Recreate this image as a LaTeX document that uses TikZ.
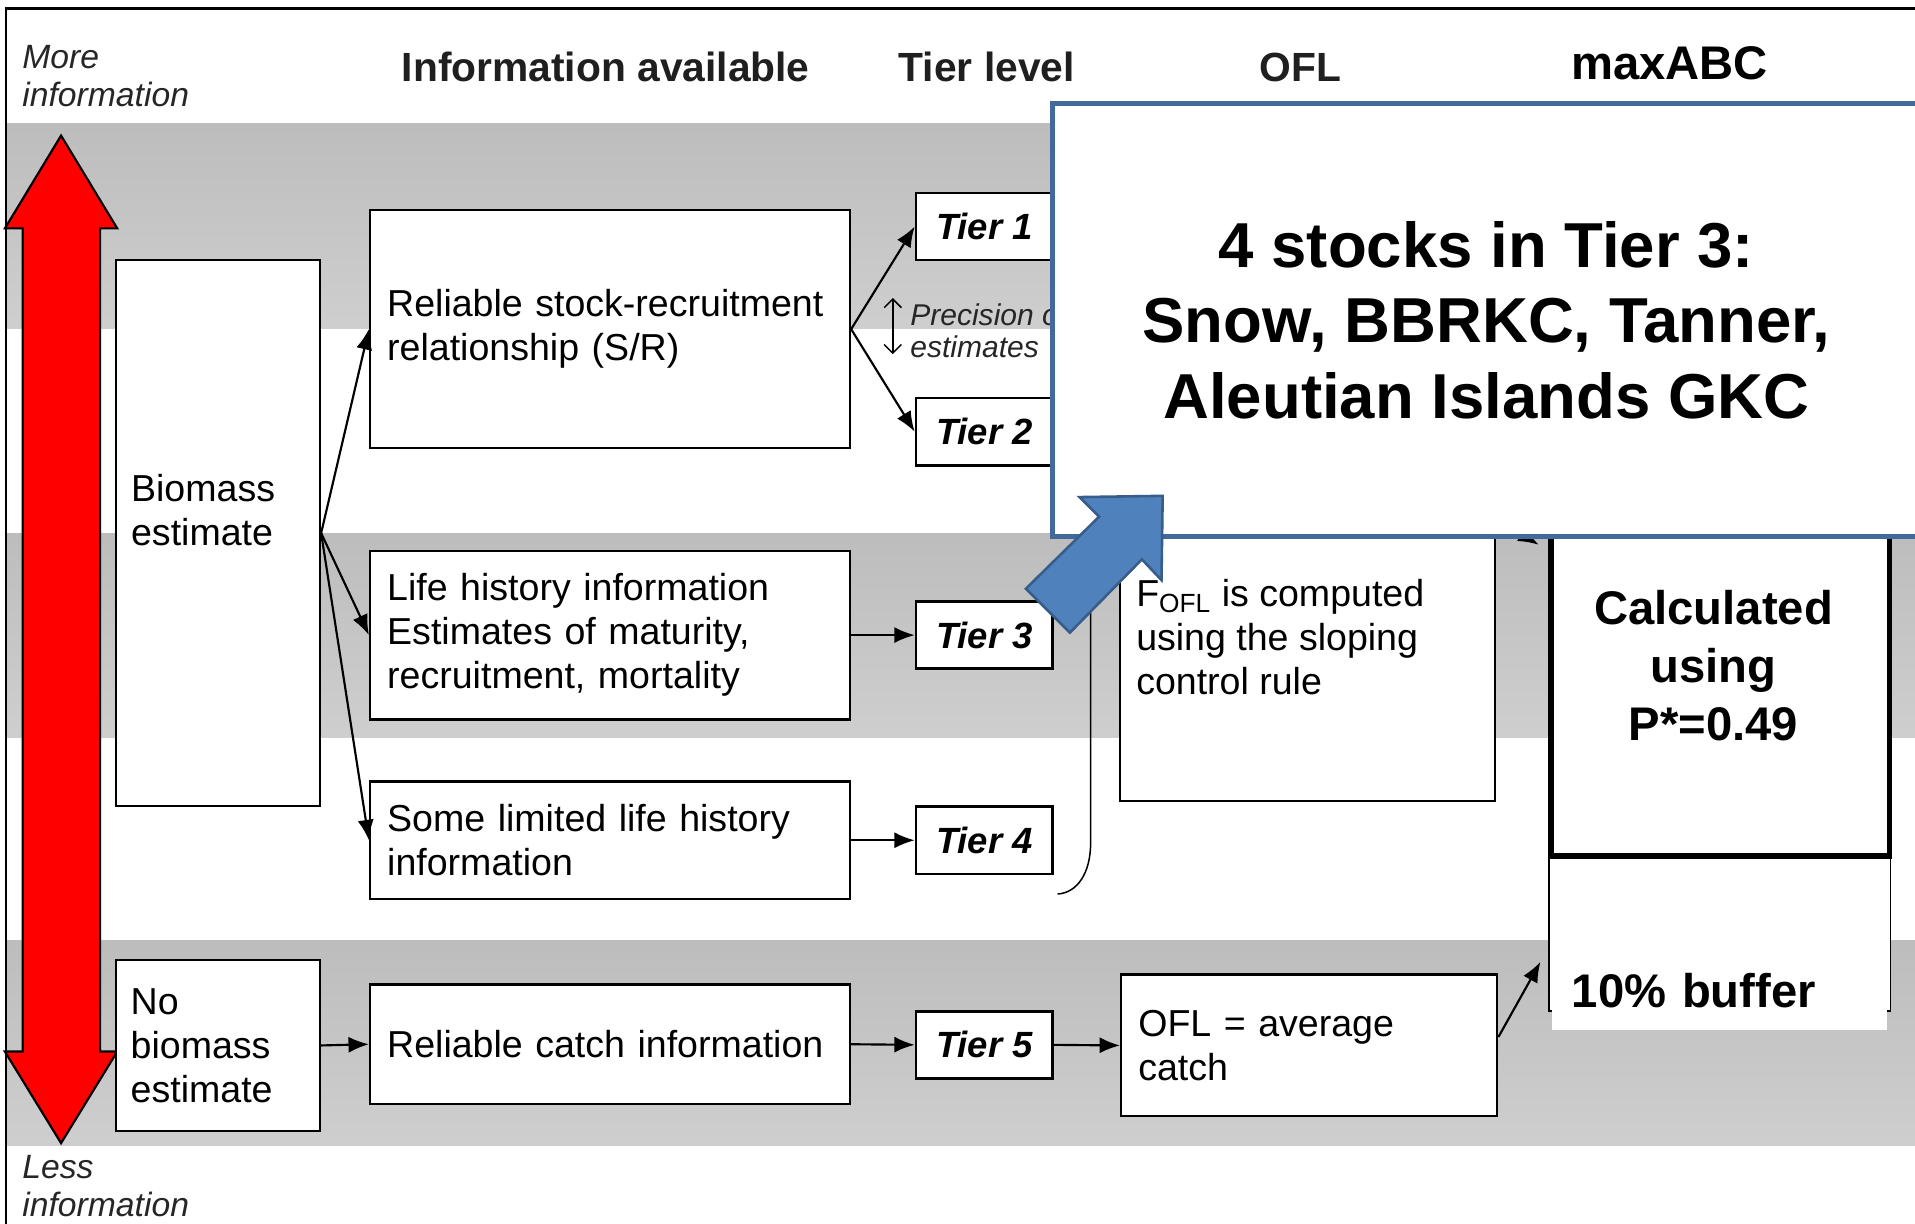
\documentclass[tikz,border=0pt]{standalone}
\usepackage{fontspec}
\setmainfont{Liberation Sans}
\usetikzlibrary{arrows.meta}

\definecolor{ovlblue}{RGB}{65,105,155}
\definecolor{arrblue}{RGB}{79,129,189}
\definecolor{arrblueline}{RGB}{56,93,138}

\newcommand{\boxfont}{\fontsize{17.5}{20.5}\selectfont}

\tikzset{
  band/.style={top color=black!26, bottom color=black!19, draw=none},
  headtext/.style={font=\fontsize{19}{22}\selectfont\bfseries, text=black!88},
  sidetext/.style={anchor=west, align=left, inner sep=0pt, font=\fontsize{15.7}{17.6}\selectfont\itshape, text=black!85},
  infobox/.style={draw, fill=white, line width=1.1pt, align=left, inner xsep=0.28cm, font=\boxfont},
  plainbox/.style={draw, fill=white, line width=1.1pt},
  boxtext/.style={anchor=west, align=left, inner sep=0pt, font=\boxfont},
  tierbox/.style={draw, fill=white, line width=1.2pt, minimum width=2.24cm, minimum height=1.1cm, inner sep=0pt, font=\fontsize{17}{20}\selectfont\bfseries\itshape},
  arr/.style={-{Latex[length=9.5pt,width=7.5pt]}, line width=1pt},
  bigtext/.style={font=\fontsize{22}{27.2}\selectfont\bfseries, text=black}
}

\begin{document}
\begin{tikzpicture}[x=0.02cm, y=-0.02cm]
        \useasboundingbox (0,0) rectangle (1568,1002);
        \clip (0,0) rectangle (1568,1002);

        % Grey bands
        \shade[band] (5,101) rectangle (1568,269);
        \shade[band] (5,437) rectangle (1568,604);
        \shade[band] (5,770) rectangle (1568,938);

        % Frame
        \draw[line width=1.1pt] (5,1002) -- (5,7) -- (1568,7);

        % Headings
        \node[headtext] (hinfo) at (496,55) {Information available};
        \node[headtext] (htier) at (808,55) {Tier level};
        \node[headtext] (hofl) at (1065,55) {OFL};
        \node[headtext, font=\fontsize{22}{26}\selectfont\bfseries, text=black] (habc) at (1367,52) {maxABC};
        \node[sidetext] (more) at (18,62) {More\\information};
        \node[sidetext] (less) at (18,971) {Less\\information};

        % Red double arrow
        \draw[fill=red, line width=1pt] (50,111) -- (96,187) -- (82,187) -- (82,861) -- (96,861)
            -- (50,936) -- (4,861) -- (18.6,861) -- (18.6,187) -- (4,187) -- cycle;

        % Biomass boxes
        \node[plainbox, minimum width=3.34cm, minimum height=8.94cm] (bio) at (178.5,436.5) {};
        \node[boxtext] (biotext) at (107,418) {Biomass\\estimate};
        \node[infobox, text width=2.86cm, inner xsep=0.24cm, minimum height=2.8cm] (nobio) at (178.5,856) {No\\biomass\\estimate};

        % Information available
        \node[infobox, text width=7.3cm, minimum height=3.9cm] (sr) at (499.5,269.5) {Reliable stock-recruitment\\relationship (S/R)};
        \node[infobox, text width=7.3cm, minimum height=2.76cm] (life) at (499.5,520) {Life history information\\Estimates of maturity,\\recruitment, mortality};
        \node[infobox, text width=7.3cm, minimum height=1.92cm] (some) at (499.5,688) {Some limited life history\\information};
        \node[infobox, text width=7.3cm, minimum height=1.96cm] (catch) at (499.5,855) {Reliable catch information};

        % Tier level
        \node[tierbox] (tier1) at (806,185.5) {Tier 1};
        \node[tierbox] (tier2) at (806,353.5) {Tier 2};
        \node[tierbox] (tier3) at (806,520) {Tier 3};
        \node[tierbox] (tier4) at (806,688) {Tier 4};
        \node[tierbox] (tier5) at (806,855.5) {Tier 5};

        % OFL
        \node[plainbox, minimum width=6.14cm, minimum height=9.92cm] (fofl) at (1070.5,408) {};
        \node[boxtext] (fofltext) at (930,522) {F\textsubscript{OFL} is computed\\using the sloping\\control rule};
        \node[infobox, text width=5.6cm, minimum height=2.32cm] (ofl5) at (1072,856) {OFL = average\\catch};

        % maxABC
        \node[plainbox, line width=0.8pt, minimum width=5.6cm, minimum height=2.54cm] (buffer) at (1408,764.5) {};
        \node[plainbox, line width=2.5pt, minimum width=5.54cm, minimum height=10.82cm] (calc) at (1408.5,430.5) {};
        \node[bigtext, align=center] (calctext) at (1403,545) {Calculated\\using\\P*=0.49};
        \node[bigtext, fill=white, align=left, text width=4.84cm, inner xsep=0.32cm, minimum height=1.26cm] (buftext) at (1408,811.5) {10\% buffer};

        % Connectors
        \draw[arr] (bio.east) -- (sr.west);
        \draw[arr] (bio.east) -- (life.west);
        \draw[arr] (bio.east) -- (some.west);
        \draw[arr] (sr.east) -- (tier1.west);
        \draw[arr] (sr.east) -- (tier2.west);
        \draw[arr] (life.east) -- (tier3.west);
        \draw[arr] (some.east) -- (tier4.west);
        \draw[arr] (nobio.east) -- (catch.west);
        \draw[arr] (catch.east) -- (tier5.west);
        \draw[arr] (tier5.east) -- (ofl5.west);
        \draw[arr] ([yshift=0.14cm]ofl5.east) -- ([xshift=-0.12cm,yshift=-0.46cm]buffer.west);
        \draw[arr] ([yshift=-0.34cm]fofl.east) -- ([xshift=-0.16cm,yshift=-0.31cm]calc.west);

        % Brace for tiers 1-4
        \draw[line width=0.7pt] (866,120) .. controls (886,122) and (893,140) .. (893,170)
            -- (893,690) .. controls (893,715) and (882,731) .. (866,732);

        % Precision of estimates
        \coordinate (ptop) at (731,244);
        \coordinate (pbot) at (731,290);
        \draw[{Straight Barb[length=4pt,width=8pt]}-{Straight Barb[length=4pt,width=8pt]}, line width=0.7pt] (ptop) -- (pbot);
        \node[sidetext, font=\fontsize{14}{14.7}\selectfont\itshape] (prec) at (745,271) {Precision of\\estimates};

        % Callout
        \node[draw=ovlblue, line width=2.3pt, fill=white, minimum width=14.2cm, minimum height=7.08cm,
            align=center, font=\fontsize{29.6}{35.2}\selectfont\bfseries] (ovl) at (1217,262)
            {4 stocks in Tier 3:\\Snow, BBRKC, Tanner,\\Aleutian Islands GKC};

        % Blue arrow
        \draw[fill=arrblue, draw=arrblueline, line width=1.2pt] (952,406) -- (951,475) -- (935,458)
            -- (876,518) -- (840,482) -- (900,423) -- (884,407) -- cycle;
\end{tikzpicture}
\end{document}
